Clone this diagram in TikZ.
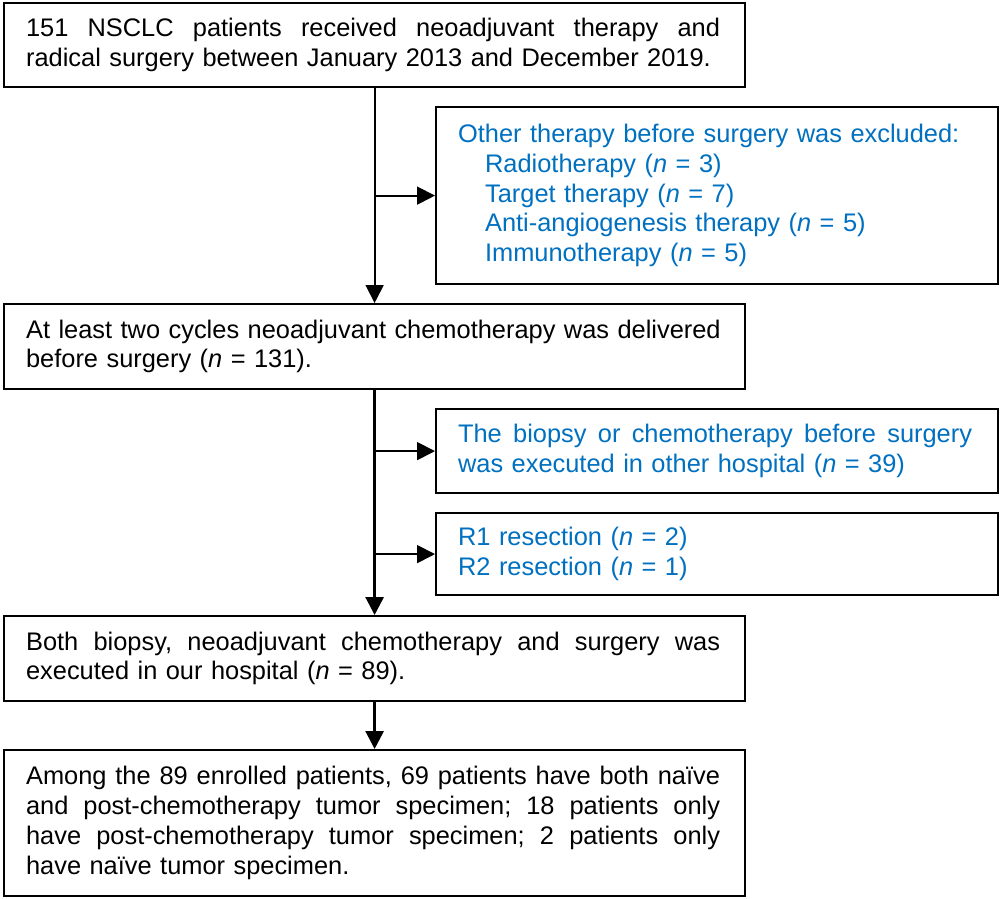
\documentclass[tikz,border=0pt]{standalone}
\usepackage{fontspec}
\setmainfont{Liberation Sans}
\usetikzlibrary{arrows.meta}
\definecolor{txtblue}{RGB}{0,112,192}
\newcommand{\jl}[2]{\leavevmode\hbox to #1{\frenchspacing\spaceskip=0.278em plus 1fil\relax #2}}
\begin{document}
\begin{tikzpicture}[x=1pt,y=1pt,
  lbox/.style={draw, line width=2.2pt, anchor=north west, text width=697pt, inner xsep=22pt, inner ysep=0pt,
     minimum width=741pt, align=left, font=\fontsize{25.4}{29.5}\selectfont},
  rbox/.style={draw, line width=2.2pt, anchor=north west, text width=518pt, inner xsep=22pt, inner ysep=0pt,
     minimum width=562pt, align=left, text=txtblue, font=\fontsize{25.4}{29.8}\selectfont},
  arr/.style={line width=1.8pt, -{Triangle[length=18pt,width=18pt]}},
  arrthick/.style={line width=2.8pt, -{Triangle[length=18pt,width=18pt]}}
]
\useasboundingbox (0,0) rectangle (1000,-898);
\fill[white] (0,0) rectangle (1000,-898);

\node[lbox, minimum height=84pt] (b1) at (3,-2)
  {\jl{694pt}{151 NSCLC patients received neoadjuvant therapy and}\\
   radical surgery between January 2013 and December 2019.};

\node[rbox, minimum height=177pt] (b2) at (435,-106)
  {Other therapy before surgery was excluded:\\
   \hspace*{27pt}Radiotherapy (\textit{n} = 3)\\
   \hspace*{27pt}Target therapy (\textit{n} = 7)\\
   \hspace*{27pt}Anti-angiogenesis therapy (\textit{n} = 5)\\
   \hspace*{27pt}Immunotherapy (\textit{n} = 5)};

\node[lbox, minimum height=85pt] (b3) at (3,-303)
  {At least two cycles neoadjuvant chemotherapy was delivered\\
   before surgery (\textit{n} = 131).};

\node[rbox, minimum height=84pt] (b4) at (435,-408)
  {\jl{514pt}{The biopsy or chemotherapy before surgery}\\
   was executed in other hospital (\textit{n} = 39)};

\node[rbox, minimum height=82pt] (b5) at (435,-512)
  {R1 resection (\textit{n} = 2)\\
   R2 resection (\textit{n} = 1)};

\node[lbox, minimum height=85pt] (b6) at (3,-615)
  {\jl{694pt}{Both biopsy, neoadjuvant chemotherapy and surgery was}\\
   executed in our hospital (\textit{n} = 89).};

\node[lbox, minimum height=146pt, font=\fontsize{25.4}{30}\selectfont] (b7) at (3,-749)
  {\jl{694pt}{Among the 89 enrolled patients, 69 patients have both naïve}\\
   \jl{694pt}{and post-chemotherapy tumor specimen; 18 patients only}\\
   \jl{694pt}{have post-chemotherapy tumor specimen; 2 patients only}\\
   have naïve tumor specimen.};

\draw[arr] (b1.south) -- (b3.north);
\draw[arr] (b1.south |- b2.west) -- (b2.west);
\draw[arrthick] (b3.south) -- (b6.north);
\draw[arr] (b3.south |- b4.west) -- (b4.west);
\draw[arr] (b3.south |- b5.west) -- (b5.west);
\draw[arrthick] (b6.south) -- (b7.north);
\end{tikzpicture}
\end{document}
